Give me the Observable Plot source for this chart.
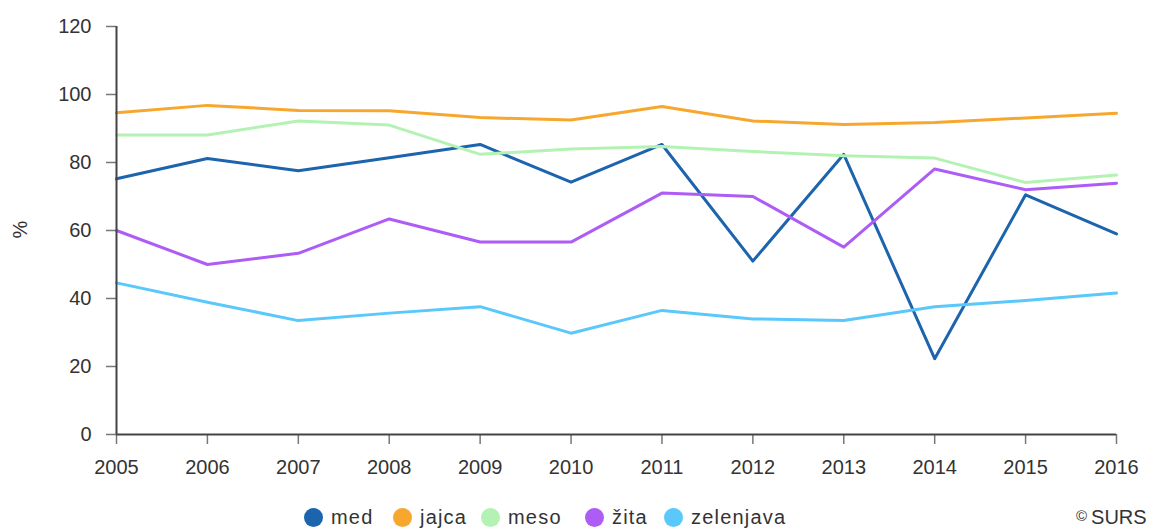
<!DOCTYPE html>
<html>
<head>
<meta charset="utf-8">
<script src="https://cdn.jsdelivr.net/npm/d3@7"></script>
<script src="https://cdn.jsdelivr.net/npm/@observablehq/plot@0.6"></script>
<style>
  html, body { margin: 0; padding: 0; background: #fff; }
  body { width: 1161px; height: 530px; overflow: hidden; font-family: "Liberation Sans", Arial, sans-serif; position: relative; }
  #legend { position: absolute; left: 0; top: 506px; width: 1161px; height: 26px; }
  .item { position: absolute; top: 0; display: flex; align-items: center; font-size: 20px; letter-spacing: 1.2px; color: #333; }
  .dot { width: 19px; height: 19px; border-radius: 50%; margin-right: 8px; }
  #credit { position: absolute; left: 1076px; top: 506px; font-size: 20px; color: #333; white-space: nowrap; }
  #credit span { font-size: 15px; vertical-align: 3px; margin-right: 4px; }
</style>
</head>
<body>
<div id="chart"></div>
<div id="legend"></div>
<div id="credit"><span>©</span>SURS</div>
<script>
const years = [2005, 2006, 2007, 2008, 2009, 2010, 2011, 2012, 2013, 2014, 2015, 2016];
const seriesNames = ["med", "jajca", "meso", "žita", "zelenjava"];
const seriesColors = ["#1c64ad", "#f7a72e", "#b3f2b3", "#ad5cf5", "#5ac8fa"];
const med = [75.2, 81.2, 77.6, 81.4, 85.3, 74.2, 85.3, 51.0, 82.4, 22.3, 70.5, 59.0];
const jajca = [94.6, 96.8, 95.3, 95.2, 93.2, 92.5, 96.5, 92.2, 91.2, 91.8, 93.1, 94.5];
const meso = [88.1, 88.1, 92.2, 91.0, 82.4, 84.0, 84.7, 83.2, 82.0, 81.3, 74.1, 76.3];
const zita = [60.0, 50.0, 53.3, 63.4, 56.6, 56.6, 71.0, 70.0, 55.1, 78.1, 72.0, 73.9];
const zelenjava = [44.6, 38.9, 33.5, 35.7, 37.6, 29.8, 36.5, 34.0, 33.5, 37.6, 39.4, 41.6];
const yTicks = [0, 20, 40, 60, 80, 100, 120];
const yLabel = "%";

const seriesValues = [med, jajca, meso, zita, zelenjava];
const data = [];
seriesNames.forEach((name, i) => {
  years.forEach((yr, j) => data.push({series: name, year: yr, value: seriesValues[i][j]}));
});

const chart = Plot.plot({
  width: 1161,
  height: 495,
  marginLeft: 116,
  marginRight: 45,
  marginTop: 26,
  marginBottom: 61,
  style: {fontFamily: "'Liberation Sans', Arial, sans-serif", fontSize: "20px", color: "#333", background: "#fff"},
  x: {domain: [2005, 2016], label: null},
  y: {domain: [0, 120], label: null},
  color: {domain: seriesNames, range: seriesColors},
  marks: [
    Plot.axisX({ticks: years, tickFormat: d => String(d), tickSize: 10, tickPadding: 15, stroke: "#777", strokeWidth: 1.5, fill: "#333", fontSize: 20, label: null}),
    Plot.axisY({ticks: yTicks, tickSize: 10, tickPadding: 15, stroke: "#777", strokeWidth: 1.5, fill: "#333", fontSize: 20, label: null}),
    Plot.lineY(data, {x: "year", y: "value", z: "series", stroke: "series", strokeWidth: 3, curve: "linear"}),
    Plot.ruleX([2005], {stroke: "#444", strokeWidth: 2}),
    Plot.ruleY([0], {stroke: "#444", strokeWidth: 2}),
    Plot.text([yLabel], {frameAnchor: "left", dx: -96, dy: 8, text: d => d, rotate: -90, fontSize: 20, fill: "#333"})
  ]
});
document.getElementById("chart").appendChild(chart);

const legendX = [304, 393, 481, 585, 664];
const legend = document.getElementById("legend");
seriesNames.forEach((name, i) => {
  const el = document.createElement("div");
  el.className = "item";
  el.style.left = legendX[i] + "px";
  el.innerHTML = `<div class="dot" style="background:${seriesColors[i]}"></div>${name}`;
  legend.appendChild(el);
});
</script>
</body>
</html>
